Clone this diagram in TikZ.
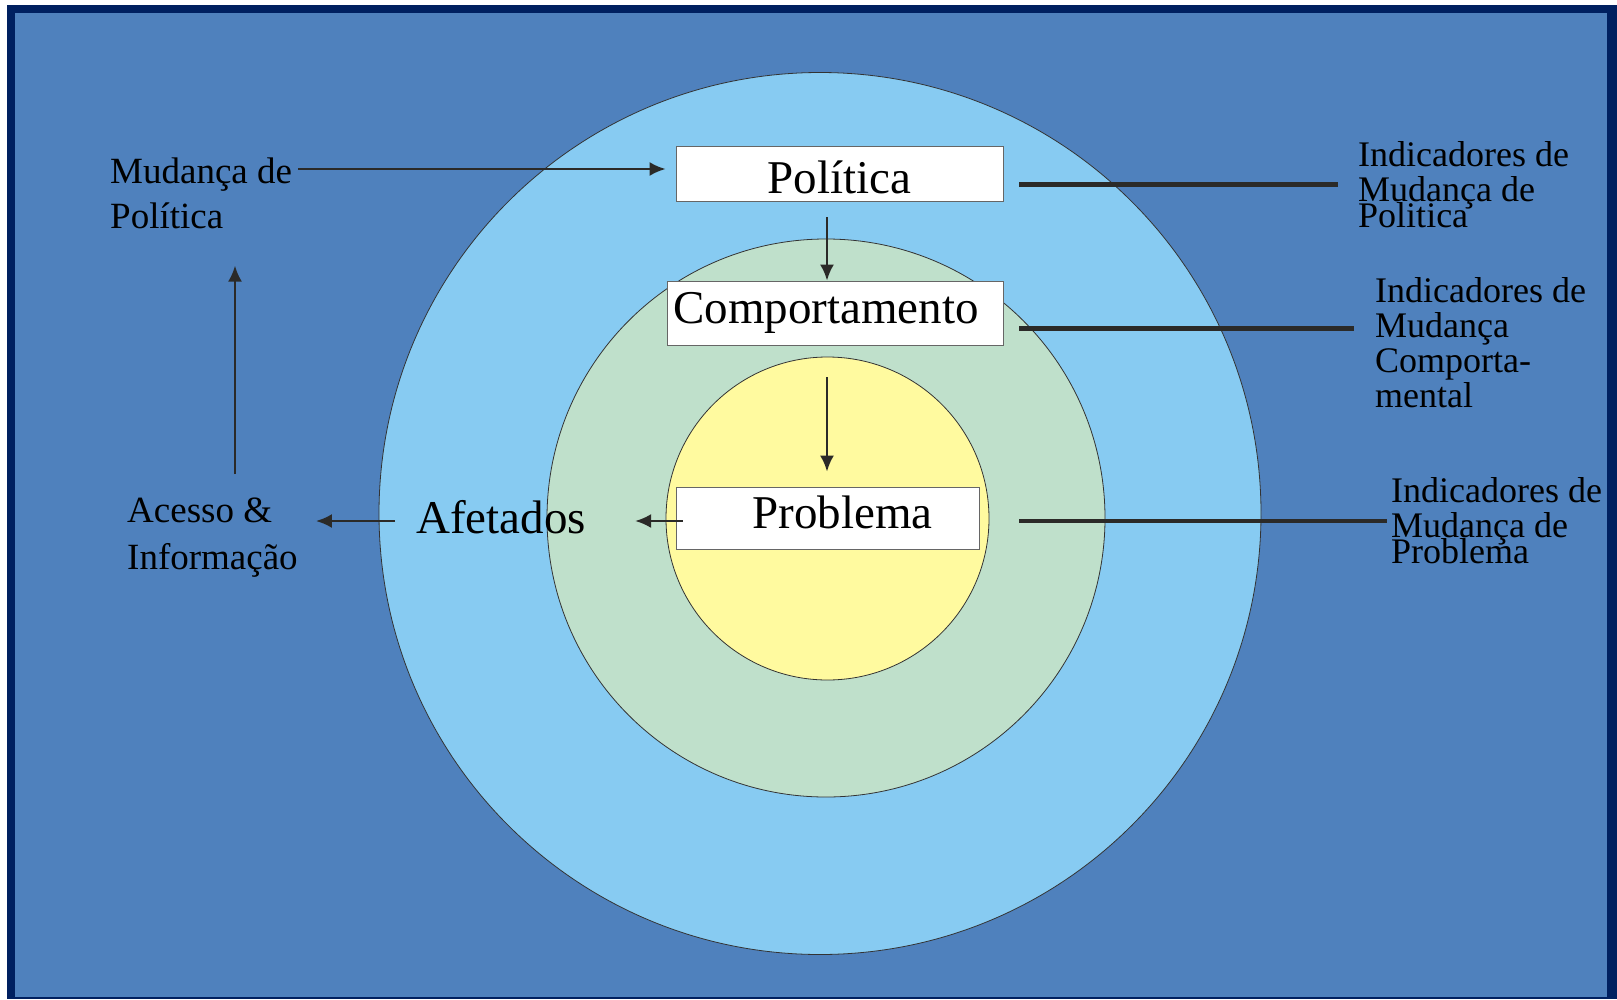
\documentclass[tikz,border=0pt]{standalone}
\usepackage{fontspec}
\setmainfont{Liberation Serif}
\usetikzlibrary{arrows.meta}
\definecolor{framenavy}{HTML}{002060}
\definecolor{bgblue}{HTML}{4F81BD}
\definecolor{ringblue}{HTML}{87CBF2}
\definecolor{ringgreen}{HTML}{BFE0CB}
\definecolor{ringyellow}{HTML}{FFFA9F}
\definecolor{arrowgray}{HTML}{2B2A28}
\newcommand\indfont{\fontsize{36}{35}\selectfont\lineskiplimit=-100pt\relax}
\begin{document}
\begin{tikzpicture}[x=1pt, y=-1pt,
    box/.style={rectangle, draw=gray!80!black, fill=white, line width=0.8pt, inner sep=0pt,
    font=\fontsize{47}{56}\selectfont, text height=34pt, text depth=14pt},
    lbl/.style={inner sep=0pt, align=left, anchor=base west, font=\fontsize{37}{45}\selectfont},
    ind/.style={inner sep=0pt, align=left, anchor=base west, font=\indfont},
    ring/.style={draw=black!80, line width=0.8pt},
    line/.style={draw=arrowgray, line width=2.5pt, -{Latex[length=16pt,width=14pt]}},
    link/.style={draw=arrowgray, line width=4.5pt}]

\fill[white] (0,0) rectangle (1617,999);
\fill[framenavy] (7,5) rectangle (1617,999);
\fill[bgblue] (15,13) rectangle (1607,997);
\useasboundingbox (0,0) rectangle (1617,999);

\draw[ring, fill=ringblue] (820,513.5) circle[radius=441];
\draw[ring, fill=ringgreen] (826,518) circle[radius=279];
\draw[ring, fill=ringyellow] (827.5,518.5) circle[radius=161.5];

\node [box, minimum width=327pt, minimum height=55pt, text height=39pt, text depth=0pt] (politica) at (839.5,173.5) {Política};
\node [box, minimum width=336pt, minimum height=64pt] (comport) at (835,313) {\hspace*{-18pt}Comportamento};
\node [box, minimum width=303pt, minimum height=62pt] (problema) at (827.5,518) {\hspace*{30pt}Problema};

% base of a multi-line node = its last line
\node [lbl] (mudanca) at (110,228) {Mudança de\\Política};
\node [lbl, font=\fontsize{37}{47}\selectfont] (acesso) at (127,569) {Acesso \&\\Informação};
\node [inner sep=0pt, anchor=base west, font=\fontsize{47}{56}\selectfont] (afetados) at (416,533) {Afetados};

\node [ind] (indpol) at (1358,227) {Indicadores de\\Mudança de\\[-9pt]Politica};
\node [ind] (indcomp) at (1375,407) {Indicadores de\\Mudança\\Comporta-\\mental};
\node [ind] (indprob) at (1391,563) {Indicadores de\\Mudança de\\[-9pt]Problema};

\path [line, shorten <=6pt, shorten >=10pt] ([yshift=4.5pt]politica.west -| mudanca.east) -- ([yshift=4.5pt]politica.west);
\path [line, shorten <=16pt] ([xshift=-12.5pt]politica.south) -- ([xshift=-12.5pt]politica.south |- comport.north);
\path [line, shorten <=32pt, shorten >=15pt] ([xshift=-8pt]comport.south) -- ([xshift=-8pt]comport.south |- problema.north);
\path [line, shorten <=-7pt, shorten >=49pt] ([yshift=-3pt]problema.west) -- ([yshift=-3pt]problema.west -| afetados.east);
\path [line, shorten <=21pt, shorten >=18pt] ([yshift=-3pt]problema.west -| afetados.west) -- ([yshift=-3pt]problema.west -| acesso.east);
\path [line, shorten <=23pt, shorten >=37pt] ([xshift=108pt]acesso.north west) -- ([xshift=108pt]acesso.north west |- mudanca.south);

\path [link, shorten <=16pt, shorten >=20pt] ([yshift=-11pt]politica.east) -- ([yshift=-11pt]politica.east -| indpol.west);
\path [link, shorten <=16pt, shorten >=21pt] ([yshift=-15.7pt]comport.east) -- ([yshift=-15.7pt]comport.east -| indcomp.west);
\path [link, shorten <=40pt, shorten >=4pt] ([yshift=-3pt]problema.east) -- ([yshift=-3pt]problema.east -| indprob.west);
\end{tikzpicture}
\end{document}
